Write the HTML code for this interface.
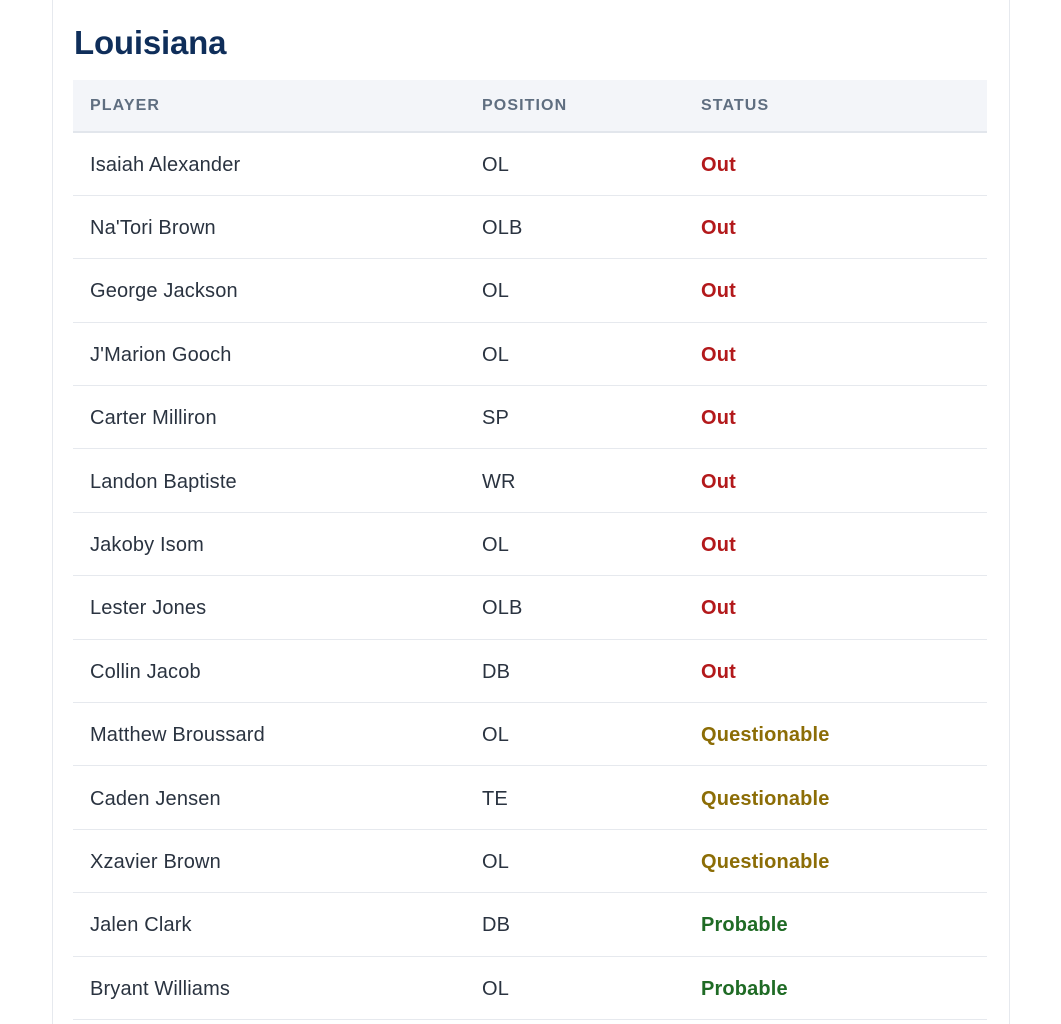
<!DOCTYPE html>
<html><head><style>
html,body{margin:0;padding:0;width:1061px;height:1024px;overflow:hidden;background:#fff;font-family:"Liberation Sans",Arial,sans-serif;}
.card{position:absolute;left:52px;top:-10px;width:956px;height:1040px;border:1px solid #e6e9ee;border-radius:8px;background:#fff;}
.clip{position:absolute;left:0;top:0;width:1061px;height:1024px;overflow:hidden;}
h1{position:absolute;left:74px;top:24px;margin:0;font-size:33px;font-weight:bold;color:#0f2e5a;letter-spacing:-0.2px;}
.hdr{position:absolute;left:73px;top:80px;width:914px;height:51px;background:#f3f5f9;border-bottom:2px solid #e2e6ec;}
.hdr span{position:absolute;top:17px;font-size:16px;font-weight:bold;color:#5f6e80;letter-spacing:1.1px;}
.row{position:absolute;left:73px;width:914px;height:62.4px;border-bottom:1px solid #e6e9ee;}
.row span{position:absolute;top:21px;font-size:20px;color:#2a3340;letter-spacing:0.15px;}
.c1{left:17px}.c2{left:409px}.c3{left:628px}
.out{color:#b3191b!important;font-weight:bold}
.q{color:#8c6d06!important;font-weight:bold}
.p{color:#1f6b25!important;font-weight:bold}
</style></head><body>
<div class="clip">
<div class="card"></div>
<h1>Louisiana</h1>
<div class="hdr"><span class="c1">PLAYER</span><span class="c2">POSITION</span><span class="c3">STATUS</span></div>
<div class="row" style="top:132.5px"><span class="c1">Isaiah Alexander</span><span class="c2">OL</span><span class="c3 out">Out</span></div>
<div class="row" style="top:195.9px"><span class="c1">Na'Tori Brown</span><span class="c2">OLB</span><span class="c3 out">Out</span></div>
<div class="row" style="top:259.3px"><span class="c1">George Jackson</span><span class="c2">OL</span><span class="c3 out">Out</span></div>
<div class="row" style="top:322.7px"><span class="c1">J'Marion Gooch</span><span class="c2">OL</span><span class="c3 out">Out</span></div>
<div class="row" style="top:386.1px"><span class="c1">Carter Milliron</span><span class="c2">SP</span><span class="c3 out">Out</span></div>
<div class="row" style="top:449.5px"><span class="c1">Landon Baptiste</span><span class="c2">WR</span><span class="c3 out">Out</span></div>
<div class="row" style="top:512.9px"><span class="c1">Jakoby Isom</span><span class="c2">OL</span><span class="c3 out">Out</span></div>
<div class="row" style="top:576.3px"><span class="c1">Lester Jones</span><span class="c2">OLB</span><span class="c3 out">Out</span></div>
<div class="row" style="top:639.7px"><span class="c1">Collin Jacob</span><span class="c2">DB</span><span class="c3 out">Out</span></div>
<div class="row" style="top:703.1px"><span class="c1">Matthew Broussard</span><span class="c2">OL</span><span class="c3 q">Questionable</span></div>
<div class="row" style="top:766.5px"><span class="c1">Caden Jensen</span><span class="c2">TE</span><span class="c3 q">Questionable</span></div>
<div class="row" style="top:829.9px"><span class="c1">Xzavier Brown</span><span class="c2">OL</span><span class="c3 q">Questionable</span></div>
<div class="row" style="top:893.3px"><span class="c1">Jalen Clark</span><span class="c2">DB</span><span class="c3 p">Probable</span></div>
<div class="row" style="top:956.7px"><span class="c1">Bryant Williams</span><span class="c2">OL</span><span class="c3 p">Probable</span></div>
</div>
</body></html>
